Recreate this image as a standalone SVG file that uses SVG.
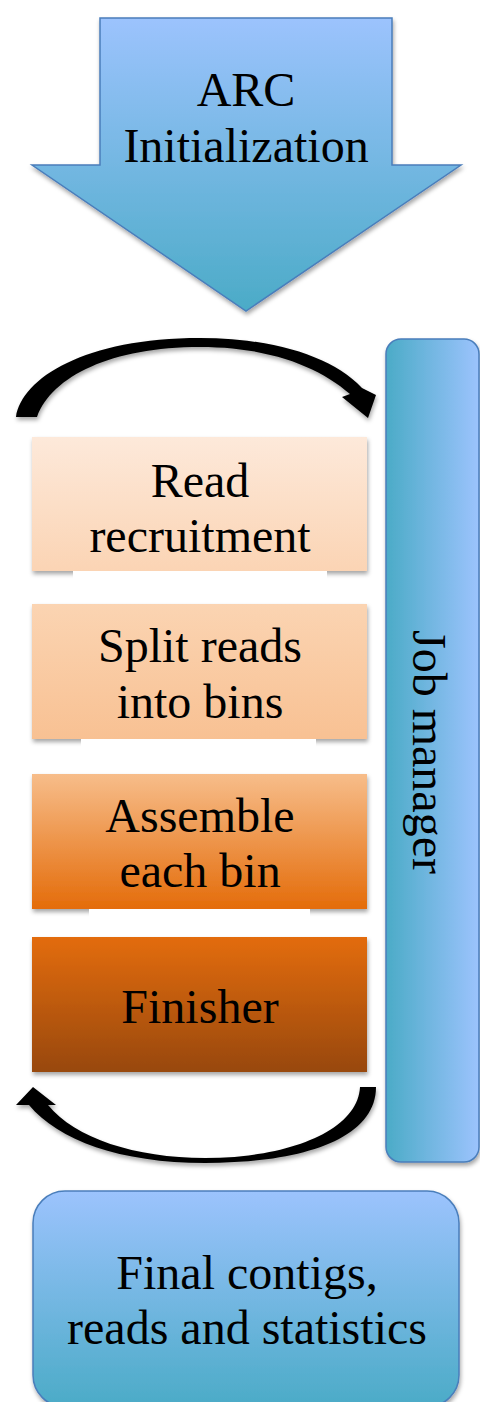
<svg xmlns="http://www.w3.org/2000/svg" width="480" height="1402" viewBox="0 0 480 1402">
<defs>
<linearGradient id="gBlueV" x1="0" y1="0" x2="0" y2="1"><stop offset="0" stop-color="#9cc3fd"/><stop offset="1" stop-color="#4babc7"/></linearGradient>
<linearGradient id="gBlueH" x1="0" y1="0" x2="1" y2="0"><stop offset="0" stop-color="#4babc7"/><stop offset="1" stop-color="#9cc3fd"/></linearGradient>
<linearGradient id="g1" x1="0" y1="0" x2="0" y2="1"><stop offset="0" stop-color="#fde9da"/><stop offset="1" stop-color="#fbd4b4"/></linearGradient>
<linearGradient id="g2" x1="0" y1="0" x2="0" y2="1"><stop offset="0" stop-color="#fbd4b2"/><stop offset="1" stop-color="#f8c193"/></linearGradient>
<linearGradient id="g3" x1="0" y1="0" x2="0" y2="1"><stop offset="0" stop-color="#f7bd8a"/><stop offset="1" stop-color="#e46c0a"/></linearGradient>
<linearGradient id="g4" x1="0" y1="0" x2="0" y2="1"><stop offset="0" stop-color="#e36c0a"/><stop offset="1" stop-color="#984807"/></linearGradient>
<filter id="sh" x="-10%" y="-10%" width="130%" height="140%"><feDropShadow dx="1" dy="3" stdDeviation="2" flood-color="#000" flood-opacity="0.35"/></filter>
</defs>
<style>
.t{font-family:"Liberation Serif","Times New Roman",serif;font-size:48px;fill:#000;text-anchor:middle}
.blue{stroke:#4a7ebb;stroke-width:1.5}
.arc{fill:#000;filter:url(#sh)}
</style>

<g id="init">
<path class="blue" d="M100,18 H392 V165 H461 L246,311 L32,165 H100 Z" fill="url(#gBlueV)" filter="url(#sh)"/>
<text class="t" x="246" y="106">ARC</text>
<text class="t" x="246" y="162">Initialization</text>
</g>

<g id="jobmanager">
<rect class="blue" x="386" y="339" width="93" height="823" rx="15" fill="url(#gBlueH)" filter="url(#sh)"/>
<text class="t" x="413" y="752" transform="rotate(90 413 752)">Job manager</text>
</g>

<g id="read">
<rect x="32" y="437" width="335" height="134" fill="url(#g1)" filter="url(#sh)"/>
<rect x="73" y="571" width="254" height="10" fill="#fff"/>
<text class="t" x="200" y="497">Read</text>
<text class="t" x="200" y="552">recruitment</text>
</g>

<g id="split">
<rect x="32" y="604" width="335" height="135" fill="url(#g2)" filter="url(#sh)"/>
<rect x="81" y="739" width="235" height="10" fill="#fff"/>
<text class="t" x="200" y="662">Split reads</text>
<text class="t" x="200" y="718">into bins</text>
</g>

<g id="assemble">
<rect x="32" y="774" width="335" height="135" fill="url(#g3)" filter="url(#sh)"/>
<rect x="89" y="909" width="221" height="10" fill="#fff"/>
<text class="t" x="200" y="832">Assemble</text>
<text class="t" x="200" y="887">each bin</text>
</g>

<g id="finisher">
<rect x="32" y="937" width="335" height="135" fill="url(#g4)" filter="url(#sh)"/>
<text class="t" x="200" y="1023">Finisher</text>
</g>

<g id="final">
<rect class="blue" x="33" y="1191" width="426" height="216" rx="32" fill="url(#gBlueV)" filter="url(#sh)"/>
<text class="t" x="247" y="1289">Final contigs,</text>
<text class="t" x="247" y="1344">reads and statistics</text>
</g>

<g id="connectors">
<path class="arc" d="M16,417 C22,378 85,338 200,338 C272,338 332,356 362,388 L376,395 L368,418 L342,397 L350,394 C318,366 268,347 200,347 C112,347 52,376 37,417 Z"/>
<path class="arc" d="M376,1087 C376,1140 300,1163 205,1163 C120,1163 58,1140 29,1105 L16,1105 L33,1087 L56,1105 L48,1105 C75,1138 135,1158 205,1158 C290,1158 358,1130 360,1087 Z"/>
</g>
</svg>
